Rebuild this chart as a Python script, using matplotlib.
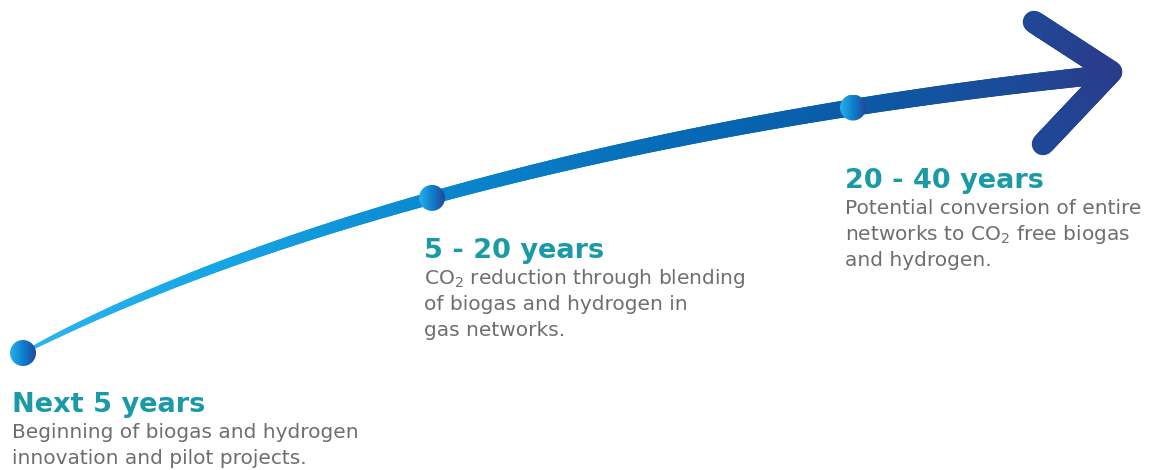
import numpy as np
import matplotlib
matplotlib.use("Agg")
import matplotlib.pyplot as plt
from matplotlib.collections import LineCollection
from matplotlib.colors import LinearSegmentedColormap
from matplotlib.patches import Circle

plt.rcParams["mathtext.fontset"] = "dejavusans"

# timeline content
titles = ["Next 5 years", "5 - 20 years", "20 - 40 years"]
descriptions = [
    ["Beginning of biogas and hydrogen", "innovation and pilot projects."],
    ["CO$_2$ reduction through blending", "of biogas and hydrogen in", "gas networks."],
    ["Potential conversion of entire", "networks to CO$_2$ free biogas", "and hydrogen."],
]

# layout (pixel coordinates, y downwards)
W, H = 1151, 470
node_x = [23, 432, 853]
text_x = [12, 424, 845]
title_y = [412, 258, 188]
line_gap = 25.8
ctrl = np.array([[23, 353], [250, 232], [640, 122], [1111, 74]], dtype=float)
arm_pts = [(1034, 22), (1111, 72), (1043, 144)]

TEAL = "#1a99a6"
GREY = "#6d6e71"
cmap = LinearSegmentedColormap.from_list(
    "shaft",
    [(0.0, "#2cb6ef"), (0.2, "#15a3e4"), (0.38, "#0a88ce"), (0.6, "#066ab6"),
     (0.76, "#0a5ba6"), (0.9, "#1a4c9a"), (1.0, "#2b3b8a")],
)
node_cmap = LinearSegmentedColormap.from_list("node", ["#27b0ec", "#0f7fcc", "#22479a"])

fig = plt.figure(figsize=(W / 100, H / 100), dpi=100)
ax = fig.add_axes([0, 0, 1, 1])
ax.set_xlim(0, W)
ax.set_ylim(H, 0)
ax.axis("off")

px = 72 / 100  # points per pixel


def xcolor(x):
    return cmap(np.clip((x - 20) / (1122 - 20), 0, 1))


# curved shaft
t = np.linspace(0, 1, 400)
b = np.stack([(1 - t) ** 3, 3 * t * (1 - t) ** 2, 3 * t ** 2 * (1 - t), t ** 3], axis=1)
curve = b @ ctrl
seg_len = np.hypot(*np.diff(curve, axis=0).T)
s = np.concatenate([[0], np.cumsum(seg_len)]) / seg_len.sum()
segs = np.stack([curve[:-1], curve[1:]], axis=1)
mid_s = (s[:-1] + s[1:]) / 2
widths = (1.5 + 17.5 * mid_s ** 0.48) * px
colors = xcolor(segs[:, :, 0].mean(axis=1))
ax.add_collection(LineCollection(segs, linewidths=widths, colors=colors, capstyle="round", zorder=2))

# arrow head arms
for p, q in [(arm_pts[0], arm_pts[1]), (arm_pts[1], arm_pts[2])]:
    u = np.linspace(0, 1, 40)
    pts = np.array(p) + u[:, None] * (np.array(q) - np.array(p))
    asegs = np.stack([pts[:-1], pts[1:]], axis=1)
    ax.add_collection(LineCollection(asegs, linewidths=22.5 * px,
                                     colors=xcolor(asegs[:, :, 0].mean(axis=1)),
                                     capstyle="round", zorder=2))

# nodes
grad = np.linspace(0, 1, 256)[None, :]
for nx_ in node_x:
    ny = np.interp(nx_, curve[:, 0], curve[:, 1])
    r = 13
    circ = Circle((nx_, ny), r, transform=ax.transData, facecolor="none", edgecolor="none")
    ax.add_patch(circ)
    im = ax.imshow(grad, cmap=node_cmap, extent=(nx_ - r, nx_ + r, ny + r, ny - r),
                   aspect="auto", zorder=3, interpolation="bilinear")
    im.set_clip_path(circ)

ax.set_xlim(0, W)
ax.set_ylim(H, 0)

# labels
for i, title in enumerate(titles):
    ax.text(text_x[i], title_y[i], title, color=TEAL, fontsize=19.5, fontweight="bold",
            family="DejaVu Sans", va="baseline", ha="left")
    for j, line in enumerate(descriptions[i]):
        ax.text(text_x[i], title_y[i] + 26.5 + j * line_gap, line, color=GREY, fontsize=14.5,
                family="DejaVu Sans", va="baseline", ha="left")

fig.savefig("out.png", dpi=100)
